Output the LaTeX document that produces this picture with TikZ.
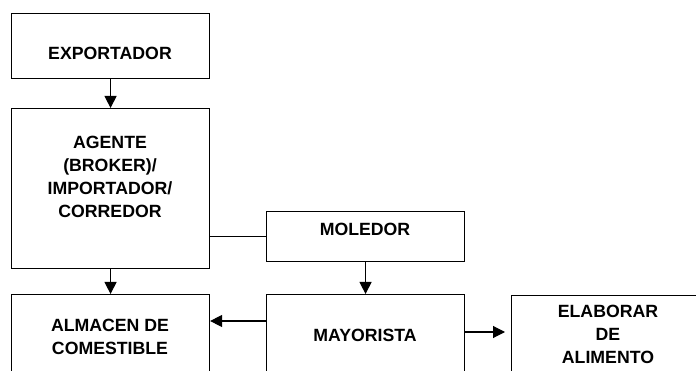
\documentclass[tikz,border=0pt]{standalone}
\usepackage{fontspec}
\setmainfont{Liberation Sans}
\usetikzlibrary{arrows.meta}
\begin{document}
\begin{tikzpicture}[x=1pt,y=-1pt,line width=1.1pt,
  every node/.style={font=\fontsize{17.7}{23}\selectfont\bfseries},
  box/.style={draw, inner sep=0pt, anchor=north west},
  lbl/.style={align=center, inner sep=0pt},
  arr/.style={-{Triangle[length=12pt,width=12pt]}}]
\useasboundingbox (0,0) rectangle (696,371);
\clip (0,0) rectangle (696,371);

\node[box, minimum width=198, minimum height=65] (exp) at (11,13) {};
\node[box, minimum width=198, minimum height=160] (agt) at (11,108) {};
\node[box, minimum width=198, minimum height=86] (alm) at (11,294) {};
\node[box, minimum width=198, minimum height=50] (mol) at (266,211) {};
\node[box, minimum width=198, minimum height=86] (may) at (266,294) {};
\node[box, minimum width=198, minimum height=86] (elab) at (511,295) {};

\node[lbl] (expT) at (110,53) {EXPORTADOR};
\node[lbl] (agtT) at (110,176.5) {AGENTE\\(BROKER)/\\IMPORTADOR/\\CORREDOR};
\node[lbl] (almT) at (110,337) {ALMACEN DE\\COMESTIBLE};
\node[lbl] (molT) at (365,229) {MOLEDOR};
\node[lbl] (mayT) at (365,335.5) {MAYORISTA};
\node[lbl] (elabT) at (608,334) {ELABORAR\\DE\\ALIMENTO};

\draw[arr] (exp) -- (agt);
\draw[arr] (agt) -- (alm);
\draw (mol.west) -- (mol.west -| agt.east);
\draw[arr] (mol) -- (may);
\draw[arr] (may.west |- 0,321) -- (alm.east |- 0,321);
\draw[arr, shorten >=6pt] (may.east |- 0,332) -- (elab.west |- 0,332);
\end{tikzpicture}
\end{document}
